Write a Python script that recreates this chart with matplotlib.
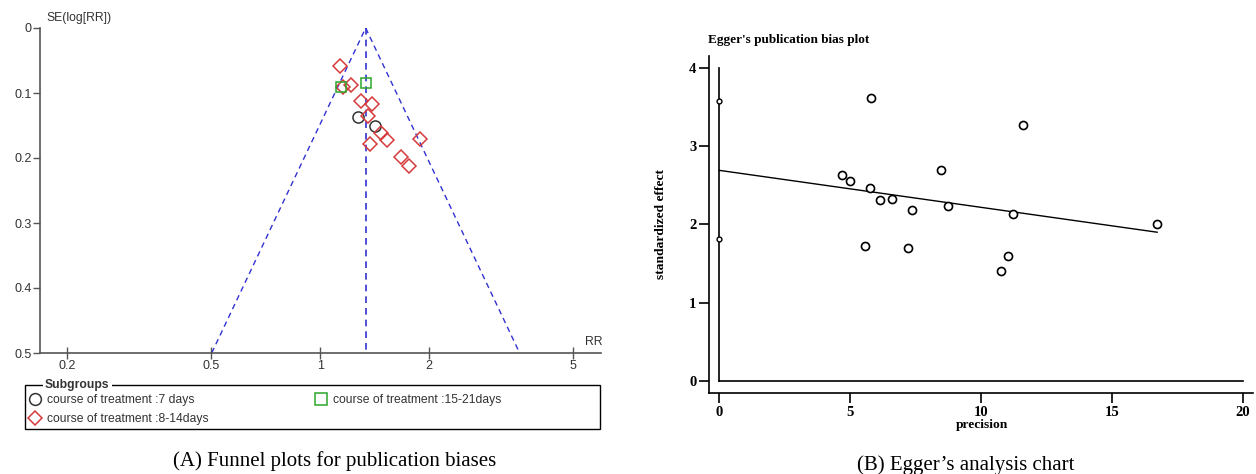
import numpy as np
import matplotlib
matplotlib.use("Agg")
import matplotlib.pyplot as plt
from matplotlib.lines import Line2D
from matplotlib.patches import Rectangle

W, H = 1256, 474

# (A) funnel plot: risk ratio and SE(log RR) per study, by subgroup
rr_7days = [1.27, 1.42]
se_7days = [0.137, 0.150]
rr_8_14days = [1.134, 1.157, 1.217, 1.296, 1.387, 1.352, 1.469, 1.534, 1.369, 1.885, 1.675, 1.762]
se_8_14days = [0.059, 0.090, 0.088, 0.113, 0.117, 0.135, 0.162, 0.172, 0.178, 0.171, 0.199, 0.213]
rr_15_21days = [1.139, 1.335]
se_15_21days = [0.091, 0.085]
pooled_rr = 1.335
se_max = 0.5
rr_ticks = [0.2, 0.5, 1, 2, 5]
se_ticks = [0, 0.1, 0.2, 0.3, 0.4, 0.5]
group_labels = ["course of treatment :7 days",
                "course of treatment :8-14days",
                "course of treatment :15-21days"]

# (B) Egger's test: precision vs standardized effect
precision = [5.80, 11.59, 4.69, 5.01, 5.77, 6.13, 6.61, 7.35, 8.47, 8.73, 11.20, 16.72, 5.55, 7.21, 11.02, 10.75]
std_effect = [3.61, 3.27, 2.63, 2.56, 2.47, 2.31, 2.32, 2.19, 2.70, 2.23, 2.13, 2.00, 1.72, 1.70, 1.60, 1.40]
intercept_ci = [1.81, 3.58]
fit_x = [0, 16.72]
fit_y = [2.69, 1.90]
prec_ticks = [0, 5, 10, 15, 20]
eff_ticks = [0, 1, 2, 3, 4]

fig = plt.figure(figsize=(W / 100, H / 100), dpi=100)
fig.patch.set_facecolor("white")

sans = "Liberation Sans"
serif = "Liberation Serif"
red = "#d63a3a"
green = "#2aa52a"
dark = "#333333"
blue = "#3232d2"
grey = "#555555"

# ---------------- panel A ----------------
ax1 = fig.add_axes([40 / W, 1 - 353 / H, 561 / W, 325 / H])
ax1.set_xscale("log")
ax1.set_xlim(0.168, 5.97)
ax1.set_ylim(se_max, 0)

se_line = np.array([se_max, 0, se_max])
rr_line = pooled_rr * np.exp(np.array([-1.96, 0, 1.96]) * se_line)
ax1.plot(rr_line, se_line, color=blue, lw=1, ls=(0, (4, 3)))
ax1.plot([pooled_rr, pooled_rr], [0, se_max], color=blue, lw=1.2, ls=(0, (4, 3)))

ax1.plot(rr_7days, se_7days, "o", ms=8, mfc="none", mec=dark, mew=1.1)
ax1.plot(rr_8_14days, se_8_14days, "D", ms=6.8, mfc="none", mec=red, mew=1.1)
ax1.plot(rr_15_21days, se_15_21days, "s", ms=6.8, mfc="none", mec=green, mew=1.1)

for s in ["top", "right"]:
    ax1.spines[s].set_visible(False)
for s in ["left", "bottom"]:
    ax1.spines[s].set_color(grey)
    ax1.spines[s].set_linewidth(1.2)
ax1.set_xticks(rr_ticks)
ax1.set_xticklabels([f"{t:g}" for t in rr_ticks])
ax1.xaxis.set_minor_locator(matplotlib.ticker.NullLocator())
ax1.set_yticks(se_ticks)
ax1.set_yticklabels([f"{t:g}" for t in se_ticks])
ax1.tick_params(axis="x", direction="inout", length=8, width=1, color=grey,
                labelsize=9, labelcolor=dark, pad=1)
ax1.tick_params(axis="y", direction="out", length=5, width=1, color=grey,
                labelsize=9, labelcolor=dark, pad=1)
for lab in ax1.get_xticklabels() + ax1.get_yticklabels():
    lab.set_fontfamily(sans)
ax1.text(0.012, 1.03, "SE(log[RR])", transform=ax1.transAxes, fontsize=8.7,
         family=sans, color=dark, va="center", ha="left")
ax1.text(1.002, 0.015, "RR", transform=ax1.transAxes, fontsize=8.7,
         family=sans, color=dark, va="bottom", ha="right")

# legend box with "Subgroups" heading on the border
fig.patches.append(Rectangle((25 / W, 1 - 429 / H), 575 / W, 44 / H,
                             transform=fig.transFigure, fill=False,
                             ec="black", lw=1))
fig.text(45 / W, 1 - 385 / H, "Subgroups", fontsize=8.7, family=sans,
         fontweight="bold", color=dark, va="center", ha="left",
         bbox=dict(fc="white", ec="none", pad=1.5))
handles = [
    Line2D([], [], ls="none", marker="o", ms=8.5, mfc="none", mec=dark, mew=1.1),
    Line2D([], [], ls="none", marker="D", ms=7.5, mfc="none", mec=red, mew=1.1),
    Line2D([], [], ls="none", marker="s", ms=8.5, mfc="none", mec=green, mew=1.1),
]
leg = fig.legend(handles, group_labels, ncol=2, loc="upper left",
                 bbox_to_anchor=(29 / W, 1 - 394 / H), frameon=False,
                 prop=dict(family=sans, size=8.7), handlelength=1.0,
                 handletextpad=0.5, columnspacing=8.8, labelspacing=0.6,
                 borderpad=0, borderaxespad=0)
for t in leg.get_texts():
    t.set_color(dark)

fig.text(335 / W, 1 - 461 / H, "(A) Funnel plots for publication biases",
         fontsize=15, family=serif, ha="center", va="center")

# ---------------- panel B ----------------
ax2 = fig.add_axes([709 / W, 1 - 393 / H, 544 / W, 337 / H])
ax2.set_xlim(-0.39, 20.38)
ax2.set_ylim(-0.153, 4.15)

ax2.plot([0, 0], [eff_ticks[0], eff_ticks[-1]], color="black", lw=1.2)
ax2.plot([prec_ticks[0], prec_ticks[-1]], [0, 0], color="black", lw=1.2)
ax2.plot(fit_x, fit_y, color="black", lw=1)
ax2.plot([0, 0], intercept_ci, "o", ms=3.5, mfc="white", mec="black", mew=1)
ax2.plot(precision, std_effect, "o", ms=5.8, mfc="white", mec="black", mew=1.2)

for s in ["top", "right"]:
    ax2.spines[s].set_visible(False)
for s in ["left", "bottom"]:
    ax2.spines[s].set_linewidth(1.2)
ax2.set_xticks(prec_ticks)
ax2.set_yticks(eff_ticks)
ax2.tick_params(direction="out", length=7, width=1.2, labelsize=10.5, pad=2)
for lab in ax2.get_xticklabels() + ax2.get_yticklabels():
    lab.set_fontfamily(serif)
    lab.set_fontweight("bold")

fig.text(708 / W, 1 - 40 / H, "Egger's publication bias plot", fontsize=9.5,
         family=serif, fontweight="bold", ha="left", va="center")
fig.text(661 / W, 1 - 224 / H, "standardized effect", fontsize=9.7,
         family=serif, fontweight="bold", ha="center", va="center", rotation=90)
fig.text(982 / W, 1 - 425 / H, "precision", fontsize=9.7, family=serif,
         fontweight="bold", ha="center", va="center")

fig.text(966 / W, 1 - 465 / H, "(B) Egger\u2019s analysis chart",
         fontsize=15, family=serif, ha="center", va="center")

fig.savefig("out.png", dpi=100)
